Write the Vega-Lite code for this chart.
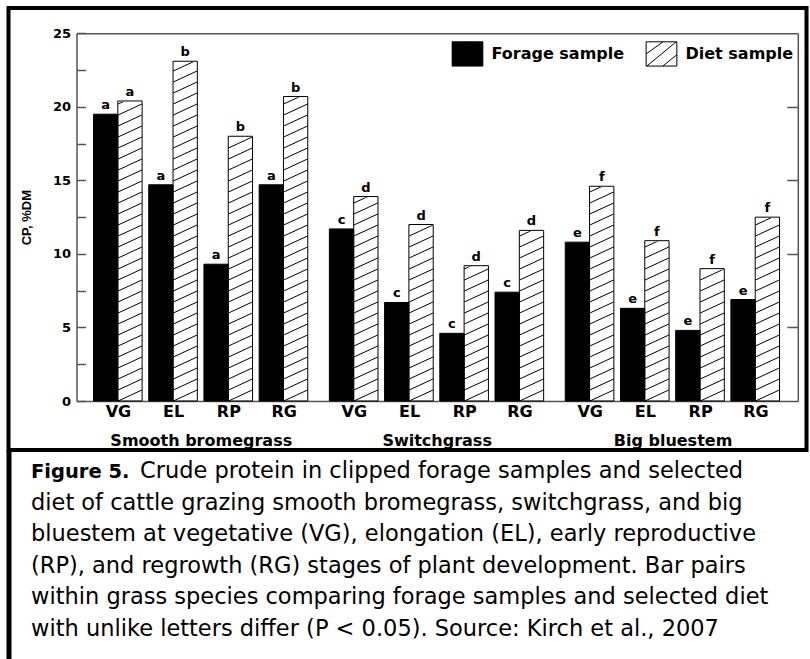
{
  "$schema": "https://vega.github.io/schema/vega-lite/v6.json",
  "padding": {"left": 6.5, "top": 6, "right": 0, "bottom": 0},
  "background": "white",
  "bounds": "flush",
  "spacing": 0,
  "config": {"font": "DejaVu Sans", "axis": {"grid": false}},
  "datasets": {
    "cp": [
      {"grass": "Smooth bromegrass", "stage": "VG", "sample": "Forage sample", "cp": 19.5, "letter": "a"},
      {"grass": "Smooth bromegrass", "stage": "VG", "sample": "Diet sample", "cp": 20.4, "letter": "a"},
      {"grass": "Smooth bromegrass", "stage": "EL", "sample": "Forage sample", "cp": 14.7, "letter": "a"},
      {"grass": "Smooth bromegrass", "stage": "EL", "sample": "Diet sample", "cp": 23.1, "letter": "b"},
      {"grass": "Smooth bromegrass", "stage": "RP", "sample": "Forage sample", "cp": 9.3, "letter": "a"},
      {"grass": "Smooth bromegrass", "stage": "RP", "sample": "Diet sample", "cp": 18.0, "letter": "b"},
      {"grass": "Smooth bromegrass", "stage": "RG", "sample": "Forage sample", "cp": 14.7, "letter": "a"},
      {"grass": "Smooth bromegrass", "stage": "RG", "sample": "Diet sample", "cp": 20.7, "letter": "b"},
      {"grass": "Switchgrass", "stage": "VG", "sample": "Forage sample", "cp": 11.7, "letter": "c"},
      {"grass": "Switchgrass", "stage": "VG", "sample": "Diet sample", "cp": 13.9, "letter": "d"},
      {"grass": "Switchgrass", "stage": "EL", "sample": "Forage sample", "cp": 6.7, "letter": "c"},
      {"grass": "Switchgrass", "stage": "EL", "sample": "Diet sample", "cp": 12.0, "letter": "d"},
      {"grass": "Switchgrass", "stage": "RP", "sample": "Forage sample", "cp": 4.6, "letter": "c"},
      {"grass": "Switchgrass", "stage": "RP", "sample": "Diet sample", "cp": 9.2, "letter": "d"},
      {"grass": "Switchgrass", "stage": "RG", "sample": "Forage sample", "cp": 7.4, "letter": "c"},
      {"grass": "Switchgrass", "stage": "RG", "sample": "Diet sample", "cp": 11.6, "letter": "d"},
      {"grass": "Big bluestem", "stage": "VG", "sample": "Forage sample", "cp": 10.8, "letter": "e"},
      {"grass": "Big bluestem", "stage": "VG", "sample": "Diet sample", "cp": 14.6, "letter": "f"},
      {"grass": "Big bluestem", "stage": "EL", "sample": "Forage sample", "cp": 6.3, "letter": "e"},
      {"grass": "Big bluestem", "stage": "EL", "sample": "Diet sample", "cp": 10.9, "letter": "f"},
      {"grass": "Big bluestem", "stage": "RP", "sample": "Forage sample", "cp": 4.8, "letter": "e"},
      {"grass": "Big bluestem", "stage": "RP", "sample": "Diet sample", "cp": 9.0, "letter": "f"},
      {"grass": "Big bluestem", "stage": "RG", "sample": "Forage sample", "cp": 6.9, "letter": "e"},
      {"grass": "Big bluestem", "stage": "RG", "sample": "Diet sample", "cp": 12.5, "letter": "f"}
    ],
    "caption": [
      {"line": 1, "part": "head", "text": "Figure 5."},
      {"line": 1, "part": "lead", "text": "Crude protein in clipped forage samples and selected"},
      {"line": 2, "part": "body", "text": "diet of cattle grazing smooth bromegrass, switchgrass, and big"},
      {"line": 3, "part": "body", "text": "bluestem at vegetative (VG), elongation (EL), early reproductive"},
      {"line": 4, "part": "body", "text": "(RP), and regrowth (RG) stages of plant development. Bar pairs"},
      {"line": 5, "part": "body", "text": "within grass species comparing forage samples and selected diet"},
      {"line": 6, "part": "body", "text": "with unlike letters differ (P < 0.05).  Source:  Kirch et al., 2007"}
    ]
  },
  "vconcat": [
    {
      "width": 798,
      "height": 442,
      "view": {"stroke": "black", "strokeWidth": 4},
      "data": {"name": "cp"},
      "resolve": {"scale": {"xOffset": "independent"}, "axis": {"x": "independent", "y": "independent"}},
      "layer": [
        {
          "transform": [{"filter": "datum.sample === 'Diet sample'"}],
          "mark": {"type": "point", "shape": "M-11.9,0L11.9,-11M-11.9,-11L11.9,-22M-11.9,-22L11.9,-33M-11.9,-33L11.9,-44M-11.9,-44L11.9,-55M-11.9,-55L11.9,-66M-11.9,-66L11.9,-77M-11.9,-77L11.9,-88M-11.9,-88L11.9,-99M-11.9,-99L11.9,-110M-11.9,-110L11.9,-121M-11.9,-121L11.9,-132M-11.9,-132L11.9,-143M-11.9,-143L11.9,-154M-11.9,-154L11.9,-165M-11.9,-165L11.9,-176M-11.9,-176L11.9,-187M-11.9,-187L11.9,-198M-11.9,-198L11.9,-209M-11.9,-209L11.9,-220M-11.9,-220L11.9,-231M-11.9,-231L11.9,-242M-11.9,-242L11.9,-253M-11.9,-253L11.9,-264M-11.9,-264L11.9,-275M-11.9,-275L11.9,-286M-11.9,-286L11.9,-297M-11.9,-297L11.9,-308M-11.9,-308L11.9,-319M-11.9,-319L11.9,-330M-11.9,-330L11.9,-341M-11.9,-341L11.9,-352", "size": 4, "filled": false, "stroke": "black", "strokeWidth": 1, "opacity": 1},
          "encoding": {
            "x": {"field": "grass", "type": "nominal", "scale": {"domain": ["Smooth bromegrass", "Switchgrass", "Big bluestem"], "range": [68, 789.3], "paddingInner": 0, "paddingOuter": 0.029}, "axis": null},
            "xOffset": {"field": "stage", "type": "nominal", "scale": {"type": "band", "domain": ["VG", "EL", "RP", "RG"], "paddingInner": 0.5598, "paddingOuter": 0.4158, "align": 0.7508}},
            "y": {"datum": 0, "type": "quantitative", "scale": {"domain": [0, 25], "range": [393, 25.3], "nice": false}, "axis": null}
          }
        },
        {
          "transform": [{"filter": "datum.sample === 'Diet sample'"}],
          "mark": {"type": "bar", "fill": "white", "stroke": "white", "strokeWidth": 1.6},
          "encoding": {
            "x": {"field": "grass", "type": "nominal", "scale": {"domain": ["Smooth bromegrass", "Switchgrass", "Big bluestem"], "range": [68, 789.3], "paddingInner": 0, "paddingOuter": 0.029}, "axis": null},
            "xOffset": {"field": "stage", "type": "nominal", "scale": {"type": "band", "domain": ["VG", "EL", "RP", "RG"], "paddingInner": 0.5598, "paddingOuter": 0.4158, "align": 0.7508}},
            "y": {"field": "cp", "type": "quantitative", "scale": {"domain": [0, 25], "range": [393, 25.3], "nice": false}, "axis": null},
            "y2": {"datum": 24.8}
          }
        },
        {
          "transform": [{"filter": "datum.sample === 'Forage sample'"}],
          "mark": {"type": "bar", "stroke": "black", "strokeWidth": 1},
          "encoding": {
            "x": {"field": "grass", "type": "nominal", "scale": {"domain": ["Smooth bromegrass", "Switchgrass", "Big bluestem"], "range": [68, 789.3], "paddingInner": 0, "paddingOuter": 0.029},
              "axis": {"orient": "bottom", "offset": -49, "domainColor": "#555", "domainWidth": 1.5, "ticks": false, "labelFont": "DejaVu Sans", "labelFontWeight": "bold", "labelFontSize": 16, "labelColor": "black", "labelPadding": 31, "labelAngle": 0, "labelLimit": 400, "title": null, "grid": false}},
            "xOffset": {"field": "stage", "type": "nominal", "scale": {"type": "band", "domain": ["VG", "EL", "RP", "RG"], "paddingInner": 0.5598, "paddingOuter": 0.4158, "align": 0.2214}},
            "y": {"field": "cp", "type": "quantitative", "scale": {"domain": [0, 25], "range": [393, 25.3], "nice": false},
              "axis": {"orient": "left", "offset": -68, "values": [0, 2.5, 5, 7.5, 10, 12.5, 15, 17.5, 20, 22.5, 25], "labelExpr": "datum.value % 5 === 0 ? datum.label : ''", "labelOverlap": false, "labelFlush": false, "domainColor": "#555", "domainWidth": 1.5, "tickColor": "#555", "tickWidth": 1.5, "tickSize": -9, "labelPadding": 15, "labelFont": "DejaVu Sans", "labelFontWeight": "bold", "labelFontSize": 13, "labelColor": "black", "title": "CP, %DM", "titleFont": "Liberation Sans", "titleFontWeight": "bold", "titleFontSize": 13, "titleColor": "black", "titlePadding": 19, "grid": false}},
            "fill": {"field": "sample", "type": "nominal", "scale": {"domain": ["Forage sample", "Diet sample"], "range": ["black", "transparent"]},
              "legend": {"title": null, "orient": "none", "legendX": 443, "legendY": 29.5, "direction": "horizontal", "symbolType": "M-1,-0.79H1V0.79H-1Z M-1,0L0.1,-0.79 M-0.96,0.79L0.96,-0.79 M0.09,0.79L1,0.05", "symbolSize": 942, "symbolStrokeColor": "black", "symbolStrokeWidth": 1, "labelFont": "DejaVu Sans", "labelFontWeight": "bold", "labelFontSize": 16, "labelColor": "black", "labelOffset": 8, "columnPadding": 19, "padding": 0, "labelLimit": 300}}
          }
        },
        {
          "transform": [{"filter": "datum.sample === 'Diet sample'"}],
          "mark": {"type": "bar", "stroke": "black", "strokeWidth": 1},
          "encoding": {
            "x": {"field": "grass", "type": "nominal", "scale": {"domain": ["Smooth bromegrass", "Switchgrass", "Big bluestem"], "range": [68, 789.3], "paddingInner": 0, "paddingOuter": 0.029},
              "axis": {"orient": "top", "offset": -25.3, "domainColor": "#555", "domainWidth": 1.5, "ticks": false, "labels": false, "title": null, "grid": false}},
            "xOffset": {"field": "stage", "type": "nominal", "scale": {"type": "band", "domain": ["VG", "EL", "RP", "RG"], "paddingInner": 0.5598, "paddingOuter": 0.4158, "align": 0.7508}},
            "y": {"field": "cp", "type": "quantitative", "scale": {"domain": [0, 25], "range": [393, 25.3], "nice": false},
              "axis": {"orient": "right", "offset": -8.7, "values": [5, 10, 15, 20], "labels": false, "domainColor": "#555", "domainWidth": 1.5, "tickColor": "#555", "tickWidth": 1.5, "tickSize": -11, "title": null, "grid": false}},
            "fill": {"field": "sample", "type": "nominal", "scale": {"domain": ["Forage sample", "Diet sample"], "range": ["black", "transparent"]},
              "legend": {"title": null, "orient": "none", "legendX": 443, "legendY": 29.5, "direction": "horizontal", "symbolType": "M-1,-0.79H1V0.79H-1Z M-1,0L0.1,-0.79 M-0.96,0.79L0.96,-0.79 M0.09,0.79L1,0.05", "symbolSize": 942, "symbolStrokeColor": "black", "symbolStrokeWidth": 1, "labelFont": "DejaVu Sans", "labelFontWeight": "bold", "labelFontSize": 16, "labelColor": "black", "labelOffset": 8, "columnPadding": 19, "padding": 0, "labelLimit": 300}}
          }
        },
        {
          "transform": [{"filter": "datum.sample === 'Forage sample'"}],
          "mark": {"type": "text", "font": "DejaVu Sans", "fontWeight": "bold", "fontSize": 13, "dy": -5, "baseline": "alphabetic", "fill": "black"},
          "encoding": {
            "x": {"field": "grass", "type": "nominal", "scale": {"domain": ["Smooth bromegrass", "Switchgrass", "Big bluestem"], "range": [68, 789.3], "paddingInner": 0, "paddingOuter": 0.029}, "axis": null},
            "xOffset": {"field": "stage", "type": "nominal", "scale": {"type": "band", "domain": ["VG", "EL", "RP", "RG"], "paddingInner": 0.5598, "paddingOuter": 0.4158, "align": 0.2214}},
            "y": {"field": "cp", "type": "quantitative", "scale": {"domain": [0, 25], "range": [393, 25.3], "nice": false}, "axis": null},
            "text": {"field": "letter"}
          }
        },
        {
          "transform": [{"filter": "datum.sample === 'Diet sample'"}],
          "mark": {"type": "text", "font": "DejaVu Sans", "fontWeight": "bold", "fontSize": 13, "dy": -5, "baseline": "alphabetic", "fill": "black"},
          "encoding": {
            "x": {"field": "grass", "type": "nominal", "scale": {"domain": ["Smooth bromegrass", "Switchgrass", "Big bluestem"], "range": [68, 789.3], "paddingInner": 0, "paddingOuter": 0.029}, "axis": null},
            "xOffset": {"field": "stage", "type": "nominal", "scale": {"type": "band", "domain": ["VG", "EL", "RP", "RG"], "paddingInner": 0.5598, "paddingOuter": 0.4158, "align": 0.7508}},
            "y": {"field": "cp", "type": "quantitative", "scale": {"domain": [0, 25], "range": [393, 25.3], "nice": false}, "axis": null},
            "text": {"field": "letter"}
          }
        },
        {
          "transform": [{"filter": "datum.sample === 'Forage sample'"}],
          "mark": {"type": "text", "font": "DejaVu Sans", "fontWeight": "bold", "fontSize": 16, "dy": 15.7, "baseline": "alphabetic", "fill": "black"},
          "encoding": {
            "x": {"field": "grass", "type": "nominal", "scale": {"domain": ["Smooth bromegrass", "Switchgrass", "Big bluestem"], "range": [68, 789.3], "paddingInner": 0, "paddingOuter": 0.029}, "axis": null},
            "xOffset": {"field": "stage", "type": "nominal", "scale": {"type": "band", "domain": ["VG", "EL", "RP", "RG"], "paddingInner": 0.12, "paddingOuter": 0.196}},
            "y": {"datum": 0, "type": "quantitative", "scale": {"domain": [0, 25], "range": [393, 25.3], "nice": false}, "axis": null},
            "text": {"field": "stage"}
          }
        }
      ]
    },
    {
      "width": 798,
      "height": 209,
      "view": {"stroke": null},
      "data": {"name": "caption"},
      "layer": [
        {
          "transform": [{"filter": "datum.part === 'head'"}],
          "mark": {"type": "text", "align": "left", "baseline": "alphabetic", "font": "DejaVu Sans", "fontWeight": "bold", "fontSize": 19.5, "dx": 22.5, "fill": "black"},
          "encoding": {
            "x": {"datum": 0, "type": "quantitative", "scale": {"domain": [0, 1]}, "axis": null},
            "y": {"field": "line", "type": "quantitative", "scale": {"domain": [0.114, 6.728], "reverse": true, "nice": false, "zero": false},
              "axis": {"orient": "left", "domainColor": "black", "domainWidth": 5, "ticks": false, "labels": false, "title": null, "grid": false}},
            "text": {"field": "text"}
          }
        },
        {
          "transform": [{"filter": "datum.part === 'lead'"}],
          "mark": {"type": "text", "align": "left", "baseline": "alphabetic", "font": "DejaVu Sans", "fontSize": 22.5, "dx": 131.5, "fill": "black"},
          "encoding": {
            "x": {"datum": 0, "type": "quantitative", "scale": {"domain": [0, 1]}, "axis": null},
            "y": {"field": "line", "type": "quantitative", "scale": {"domain": [0.114, 6.728], "reverse": true, "nice": false, "zero": false},
              "axis": {"orient": "left", "domainColor": "black", "domainWidth": 5, "ticks": false, "labels": false, "title": null, "grid": false}},
            "text": {"field": "text"}
          }
        },
        {
          "transform": [{"filter": "datum.part === 'body'"}],
          "mark": {"type": "text", "align": "left", "baseline": "alphabetic", "font": "DejaVu Sans", "fontSize": 22.5, "dx": 22.5, "fill": "black"},
          "encoding": {
            "x": {"datum": 0, "type": "quantitative", "scale": {"domain": [0, 1]}, "axis": null},
            "y": {"field": "line", "type": "quantitative", "scale": {"domain": [0.114, 6.728], "reverse": true, "nice": false, "zero": false},
              "axis": {"orient": "left", "domainColor": "black", "domainWidth": 5, "ticks": false, "labels": false, "title": null, "grid": false}},
            "text": {"field": "text"}
          }
        }
      ]
    }
  ]
}
